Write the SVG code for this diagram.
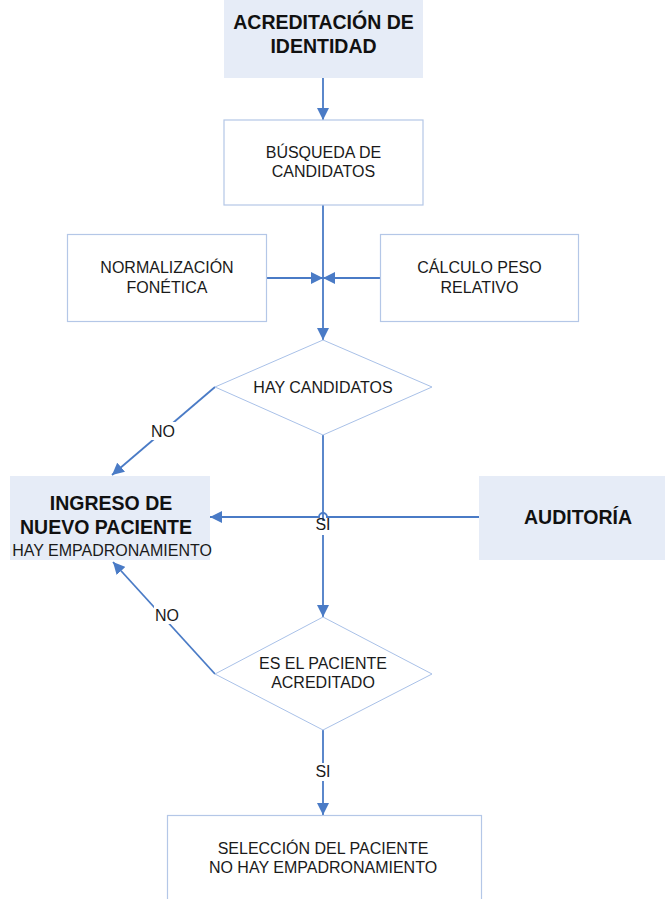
<svg xmlns="http://www.w3.org/2000/svg" width="665" height="899" viewBox="0 0 665 899">
  <defs>
    <marker id="arrow" viewBox="0 0 12 12" refX="12" refY="6" markerWidth="12" markerHeight="12" markerUnits="userSpaceOnUse" orient="auto">
      <path d="M0,0 L12,6 L0,12 z" fill="#4a7bc6"/>
    </marker>
    <style>
      .fill { fill: #e6ecf7; stroke: none; }
      .box { fill: #ffffff; stroke: #b4c7e7; stroke-width: 1.2; }
      .dia { fill: #ffffff; stroke: #a9c1e8; stroke-width: 1; }
      .t { font-family: "Liberation Sans", Arial, sans-serif; font-size: 16px; fill: #1a1a1a; text-anchor: middle; }
      .b { font-family: "Liberation Sans", Arial, sans-serif; font-size: 19.5px; font-weight: bold; fill: #111111; text-anchor: middle; }
      .c { fill: none; stroke: #4a7bc6; stroke-width: 1.8; }
      .lbl { fill: #ffffff; stroke: none; }
    </style>
  </defs>

  <!-- connectors -->
  <g id="connectors">
    <line class="c" x1="323" y1="78" x2="323" y2="120" marker-end="url(#arrow)"/>
    <line class="c" x1="323" y1="205" x2="323" y2="340" marker-end="url(#arrow)"/>
    <line class="c" x1="267" y1="278" x2="323" y2="278" marker-end="url(#arrow)"/>
    <line class="c" x1="380" y1="278" x2="323" y2="278" marker-end="url(#arrow)"/>
    <!-- NO branch from first decision -->
    <line class="c" x1="215" y1="387" x2="112" y2="475" marker-end="url(#arrow)"/>
    <!-- SI branch down to second decision -->
    <line class="c" x1="323" y1="435" x2="323" y2="617" marker-end="url(#arrow)"/>
    <!-- audit line with jump over the vertical -->
    <path class="c" d="M479,517 H327 A4,4 0 0 0 319,517 H210" marker-end="url(#arrow)"/>
    <!-- NO branch from second decision -->
    <line class="c" x1="215" y1="674" x2="113" y2="562" marker-end="url(#arrow)"/>
    <!-- SI branch to selection -->
    <line class="c" x1="323" y1="730" x2="323" y2="815" marker-end="url(#arrow)"/>

    <rect class="lbl" x="150" y="422" width="26" height="18"/>
    <text class="t" x="163" y="437">NO</text>
    <rect class="lbl" x="154" y="606" width="26" height="18"/>
    <text class="t" x="167" y="621">NO</text>
    <rect class="lbl" x="314" y="521" width="18" height="14"/>
    <text class="t" x="323" y="530">SI</text>
    <rect class="lbl" x="313" y="763" width="20" height="18"/>
    <text class="t" x="323" y="777">SI</text>
  </g>

  <g id="acreditacion">
    <rect class="fill" x="224" y="0" width="199" height="78"/>
    <text class="b" x="323.5" y="29">ACREDITACIÓN DE</text>
    <text class="b" x="323.5" y="53">IDENTIDAD</text>
  </g>

  <g id="busqueda">
    <rect class="box" x="224" y="120" width="199" height="85"/>
    <text class="t" x="323.5" y="158">BÚSQUEDA DE</text>
    <text class="t" x="323.5" y="177">CANDIDATOS</text>
  </g>

  <g id="normalizacion">
    <rect class="box" x="67.5" y="234.5" width="199" height="87"/>
    <text class="t" x="167" y="273">NORMALIZACIÓN</text>
    <text class="t" x="167" y="293">FONÉTICA</text>
  </g>

  <g id="calculo">
    <rect class="box" x="380.5" y="234.5" width="198" height="87"/>
    <text class="t" x="479.5" y="273">CÁLCULO PESO</text>
    <text class="t" x="479.5" y="293">RELATIVO</text>
  </g>

  <g id="hay-candidatos">
    <polygon class="dia" points="323,340 432,387 323,435 215,387"/>
    <text class="t" x="323" y="393">HAY CANDIDATOS</text>
  </g>

  <g id="ingreso">
    <rect class="fill" x="10" y="476" width="200" height="84"/>
    <text class="b" x="111" y="510">INGRESO DE</text>
    <text class="b" x="106" y="534">NUEVO PACIENTE</text>
    <text class="t" x="112" y="556">HAY EMPADRONAMIENTO</text>
  </g>

  <g id="auditoria">
    <rect class="fill" x="479" y="476" width="186" height="84"/>
    <text class="b" x="578" y="524">AUDITORÍA</text>
  </g>

  <g id="es-el-paciente">
    <polygon class="dia" points="323,617 432,674 323,730 215,674"/>
    <text class="t" x="323" y="669">ES EL PACIENTE</text>
    <text class="t" x="323" y="688">ACREDITADO</text>
  </g>

  <g id="seleccion">
    <rect class="box" x="167.5" y="815.5" width="314" height="95"/>
    <text class="t" x="323" y="854">SELECCIÓN DEL PACIENTE</text>
    <text class="t" x="323" y="873">NO HAY EMPADRONAMIENTO</text>
  </g>
</svg>
